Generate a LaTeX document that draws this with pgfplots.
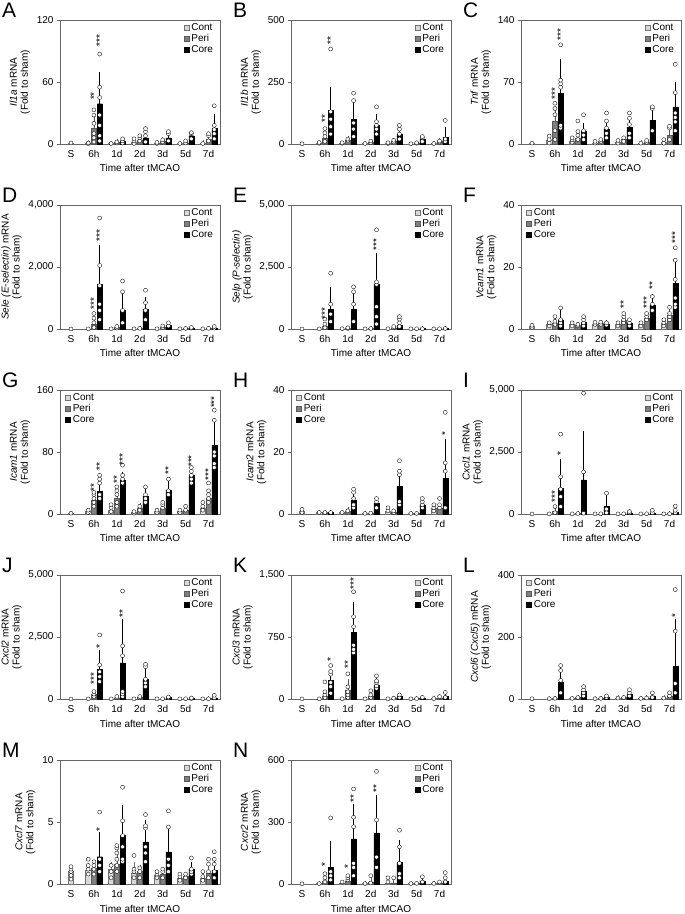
\documentclass[border=0pt]{standalone}
\usepackage{fontspec}
\setmainfont{Liberation Sans}
\usepackage{pgfplots}
\pgfplotsset{compat=1.18}
\definecolor{contfill}{gray}{0.85}
\definecolor{contdraw}{gray}{0.45}
\definecolor{perifill}{gray}{0.5}
\definecolor{peridraw}{gray}{0.35}
\definecolor{axgray}{gray}{0.4}
\tikzset{letter/.style={anchor=north west, inner sep=0pt, font=\fontsize{21}{21}\selectfont}}
\pgfplotsset{
 panel/.style={scale only axis, width=160pt, height=124pt, xmin=-0.48, xmax=6.5, ymin=0,
   axis line style={axgray, line width=0.5pt}, xtick={0,1,2,3,4,5,6},
   xticklabels={S,6h,1d,2d,3d,5d,7d}, xtick style={draw=none}, ytick pos=left,
   tick align=outside, major tick length=3pt, ytick style={axgray, line width=0.5pt},
   xlabel={Time after tMCAO},
   tick label style={font=\fontsize{10}{11}\selectfont},
   label style={font=\fontsize{10}{11}\selectfont},
   ylabel style={align=center}, clip=false, legend cell align=left,
   legend style={draw=none, fill=none, font=\fontsize{10}{10.5}\selectfont, inner sep=0pt, row sep=-1.5pt},
   anchor=south west},
 TR/.style={legend style={at={(0.97,0.99)}, anchor=north east}},
 TL/.style={legend style={at={(0.03,0.99)}, anchor=north west}},
 sqleg/.style={legend image code/.code={\draw[##1] (0pt,-2.7pt) rectangle (5.4pt,2.7pt);}},
 ebar/.style={error bars/.cd, y dir=plus, y explicit, error bar style={line width=0.4pt, #1}, error mark options={line width=0.4pt, mark size=2pt, #1}},
 cont/.style={ybar, bar width=0.22, bar shift=0pt, fill=contfill, draw=contdraw, line width=0.4pt, forget plot, ebar=contdraw},
 peri/.style={ybar, bar width=0.22, bar shift=0pt, fill=perifill, draw=peridraw, line width=0.4pt, forget plot, ebar=peridraw},
 core/.style={ybar, bar width=0.22, bar shift=0pt, fill=black, draw=black, line width=0.4pt, forget plot, ebar=black},
 pts/.style={only marks, mark=*, mark size=2pt, mark options={fill=white, draw=black, line width=0.35pt}, forget plot},
 stars/.style={draw=none, mark=none, forget plot, nodes near coords, point meta=explicit symbolic,
   nodes near coords style={rotate=90, anchor=west, inner sep=0.5pt, font=\fontsize{10}{10}\selectfont}},
}
\newcommand{\legs}{\addlegendimage{sqleg,fill=contfill,draw=contdraw}\addlegendentry{Cont}
\addlegendimage{sqleg,fill=perifill,draw=peridraw}\addlegendentry{Peri}
\addlegendimage{sqleg,fill=black,draw=black}\addlegendentry{Core}}
\begin{document}
\begin{tikzpicture}
\useasboundingbox (0,0) rectangle (685pt,-914pt);
% ---------------- A
\begin{axis}[panel, TR, at={(60pt,-144pt)}, ymax=120, ytick={0,60,120}, yticklabels={0,60,120},
 ylabel={\textit{Il1a} mRNA\\(Fold to sham)}]
\legs
\addplot[cont] coordinates {(0,1) +- (0,0) (0.75,1) +- (0,0.5) (1.75,0.6) +- (0,0.3) (2.75,2) +- (0,2) (3.75,1) +- (0,0.5) (4.75,0.5) +- (0,0.3) (5.75,1) +- (0,1)};
\addplot[peri] coordinates {(1,15) +- (0,12) (2,1.5) +- (0,1) (3,4) +- (0,3) (4,3) +- (0,1.5) (5,1) +- (0,0.8) (6,5) +- (0,3)};
\addplot[core] coordinates {(1.25,39) +- (0,29) (2.25,3) +- (0,1.5) (3.25,6) +- (0,5) (4.25,6) +- (0,5) (5.25,8) +- (0,3) (6.25,15) +- (0,12)};
\addplot[pts] coordinates {(0,1) (0.75,0.5) (0.75,1) (1,2) (1,6) (1,10) (1,20) (1,28) (1,33) (1.25,3) (1.25,8) (1.25,18) (1.25,28) (1.25,45) (1.25,55) (1.25,87)
 (1.75,0.5) (2,1) (2,2) (2.25,1) (2.25,3) (2.25,5) (2.75,0.5) (2.75,3) (2.75,5) (3,3) (3,6) (3,8) (3.25,2) (3.25,8) (3.25,12) (3.25,15)
 (3.75,0.5) (3.75,1.5) (4,2) (4,4) (4.25,3) (4.25,10) (4.25,12) (4.75,0.5) (5,1) (5,3) (5.25,5) (5.25,10) (5.25,11)
 (5.75,0.5) (6,3) (6,8) (6,10) (6.25,5) (6.25,10) (6.25,14) (6.25,18) (6.25,37)};
\addplot[stars] coordinates {(1,42) [**] (1.25,94) [***]};
\end{axis}
\node[letter] at (2pt,-3pt) {A};
% ---------------- B
\begin{axis}[panel, TR, at={(291pt,-144pt)}, ymax=500, ytick={0,250,500}, yticklabels={0,250,500},
 ylabel={\textit{Il1b} mRNA\\(Fold to sham)}]
\legs
\addplot[cont] coordinates {(0,1) +- (0,0) (0.75,3) +- (0,2) (1.75,3) +- (0,2) (2.75,2) +- (0,1) (3.75,3) +- (0,2) (4.75,1) +- (0,1) (5.75,3) +- (0,2)};
\addplot[peri] coordinates {(1,25) +- (0,20) (2,15) +- (0,8) (3,8) +- (0,5) (4,10) +- (0,6) (5,3) +- (0,2) (6,10) +- (0,5)};
\addplot[core] coordinates {(1.25,135) +- (0,88) (2.25,100) +- (0,72) (3.25,75) +- (0,37) (4.25,40) +- (0,20) (5.25,20) +- (0,10) (6.25,28) +- (0,32)};
\addplot[pts] coordinates {(0,1) (0.75,3) (0.75,6) (1,10) (1,30) (1,45) (1,62) (1.25,40) (1.25,70) (1.25,100) (1.25,130) (1.25,383)
 (1.75,3) (1.75,5) (2,15) (2,20) (2.25,30) (2.25,60) (2.25,85) (2.25,175) (2.25,205) (2.75,2) (3,5) (3,12)
 (3.25,40) (3.25,60) (3.25,75) (3.25,90) (3.25,150) (3.75,2) (3.75,5) (4,8) (4,15) (4.25,20) (4.25,40) (4.25,60) (4.25,75)
 (4.75,1) (5,3) (5,5) (5.25,10) (5.25,25) (5.25,30) (5.75,2) (6,8) (6,12) (6.25,10) (6.25,20) (6.25,95)};
\addplot[stars] coordinates {(1,85) [**] (1.25,400) [**]};
\end{axis}
\node[letter] at (233pt,-3pt) {B};
% ---------------- C
\begin{axis}[panel, TR, at={(521pt,-144pt)}, ymax=140, ytick={0,70,140}, yticklabels={0,70,140},
 ylabel={\textit{Tnf} mRNA\\(Fold to sham)}]
\legs
\addplot[cont] coordinates {(0,1) +- (0,0) (0.75,4) +- (0,3) (1.75,3) +- (0,2) (2.75,1) +- (0,1) (3.75,2) +- (0,1.5) (4.75,1) +- (0,1) (5.75,2) +- (0,2)};
\addplot[peri] coordinates {(1,26) +- (0,15) (2,7) +- (0,5) (3,3) +- (0,2) (4,5) +- (0,2) (5,2) +- (0,1) (6,10) +- (0,7)};
\addplot[core] coordinates {(1.25,57) +- (0,37) (2.25,14) +- (0,8) (3.25,17) +- (0,8) (4.25,19) +- (0,9) (5.25,27) +- (0,9) (6.25,42) +- (0,26)};
\addplot[pts] coordinates {(0,1) (0.75,1) (0.75,5) (0.75,9) (1,5) (1,15) (1,33) (1,40) (1,46) (1.25,18) (1.25,21) (1.25,64) (1.25,68) (1.25,72) (1.25,112)
 (1.75,2) (1.75,5) (1.75,7) (2,5) (2,10) (2,14) (2,26) (2.25,5) (2.25,10) (2.25,15) (2.25,33) (2.75,1) (2.75,3) (3,3) (3,5)
 (3.25,7) (3.25,12) (3.25,18) (3.25,26) (3.25,35) (3.75,1) (3.75,4) (4,3) (4,7) (4.25,7) (4.25,12) (4.25,22) (4.25,29) (4.25,35)
 (4.75,1) (5,2) (5,4) (5.25,15) (5.25,40) (5.25,42) (5.75,1) (5.75,5) (6,5) (6,18) (6,20) (6.25,15) (6.25,25) (6.25,30) (6.25,35) (6.25,58) (6.25,90)};
\addplot[stars] coordinates {(1,50) [***] (1.25,116) [***]};
\end{axis}
\node[letter] at (463pt,-3pt) {C};
% ---------------- D
\begin{axis}[panel, TR, at={(60pt,-329pt)}, ymax=4000, ytick={0,2000,4000}, yticklabels={0,{2,000},{4,000}},
 ylabel={\textit{Sele (E-selectin)} mRNA\\(Fold to sham)}]
\legs
\addplot[cont] coordinates {(0,1) +- (0,0) (0.75,5) +- (0,3) (1.75,5) +- (0,3) (2.75,5) +- (0,3) (3.75,3) +- (0,2) (4.75,5) +- (0,3) (5.75,5) +- (0,3)};
\addplot[peri] coordinates {(1,150) +- (0,150) (2,50) +- (0,40) (3,20) +- (0,15) (4,50) +- (0,50) (5,20) +- (0,10) (6,20) +- (0,10)};
\addplot[core] coordinates {(1.25,1450) +- (0,1200) (2.25,620) +- (0,580) (3.25,650) +- (0,320) (4.25,120) +- (0,60) (5.25,30) +- (0,15) (6.25,30) +- (0,20)};
\addplot[pts] coordinates {(0,1) (0.75,5) (1,50) (1,200) (1,350) (1,500) (1.25,300) (1.25,600) (1.25,800) (1.25,1400) (1.25,2050) (1.25,3580)
 (1.75,5) (2,30) (2,80) (2.25,200) (2.25,600) (2.25,1200) (2.25,1550) (2.75,5) (3,20) (3.25,300) (3.25,600) (3.25,850) (3.25,1250)
 (3.75,5) (4,50) (4,100) (4.25,100) (4.25,200) (4.75,5) (5,20) (5.25,30) (5.25,50) (5.75,5) (6,20) (6.25,30) (6.25,80)};
\addplot[stars] coordinates {(1,600) [***] (1.25,2800) [***]};
\end{axis}
\node[letter] at (2pt,-188pt) {D};
% ---------------- E
\begin{axis}[panel, TR, at={(291pt,-329pt)}, ymax=5000, ytick={0,2500,5000}, yticklabels={0,{2,500},{5,000}},
 ylabel={\textit{Selp (P-selectin)}\\(Fold to sham)}]
\legs
\addplot[cont] coordinates {(0,1) +- (0,0) (0.75,5) +- (0,3) (1.75,10) +- (0,5) (2.75,5) +- (0,3) (3.75,5) +- (0,3) (4.75,5) +- (0,3) (5.75,5) +- (0,3)};
\addplot[peri] coordinates {(1,100) +- (0,100) (2,30) +- (0,20) (3,20) +- (0,10) (4,30) +- (0,20) (5,10) +- (0,5) (6,10) +- (0,5)};
\addplot[core] coordinates {(1.25,800) +- (0,800) (2.25,780) +- (0,600) (3.25,1800) +- (0,1200) (4.25,150) +- (0,150) (5.25,15) +- (0,10) (6.25,20) +- (0,10)};
\addplot[pts] coordinates {(0,1) (0.75,5) (1,50) (1,200) (1,400) (1.25,300) (1.25,600) (1.25,1000) (1.25,2250) (1.75,10) (2,20) (2,50)
 (2.25,300) (2.25,1000) (2.25,1500) (2.25,1700) (2.75,5) (3,20) (3.25,200) (3.25,500) (3.25,900) (3.25,1800) (3.25,1900) (3.25,4000)
 (3.75,10) (4,50) (4,100) (4.25,100) (4.25,250) (4.25,400) (4.25,500) (4.75,5) (5,10) (5.25,10) (5.75,5) (6,10) (6.25,20)};
\addplot[stars] coordinates {(1,350) [***] (3.25,3150) [***]};
\end{axis}
\node[letter] at (233pt,-188pt) {E};
% ---------------- F
\begin{axis}[panel, TL, at={(521pt,-329pt)}, ymax=40, ytick={0,20,40}, yticklabels={0,20,40},
 ylabel={\textit{Vcam1} mRNA\\(Fold to sham)}]
\legs
\addplot[cont] coordinates {(0,1) +- (0,0.3) (0.75,1.5) +- (0,0.5) (1.75,1.5) +- (0,0.5) (2.75,1.5) +- (0,0.5) (3.75,1.5) +- (0,0.5) (4.75,1.5) +- (0,0.5) (5.75,2) +- (0,1)};
\addplot[peri] coordinates {(1,2) +- (0,1) (2,1.2) +- (0,0.5) (3,1.8) +- (0,0.5) (4,3) +- (0,1.5) (5,3.5) +- (0,1.2) (6,4.5) +- (0,2)};
\addplot[core] coordinates {(1.25,3) +- (0,2.5) (2.25,2.2) +- (0,1) (3.25,1.6) +- (0,0.5) (4.25,2) +- (0,0.8) (5.25,7.7) +- (0,3) (6.25,14.7) +- (0,7.2)};
\addplot[pts] coordinates {(0,0.5) (0,1.2) (0.75,1) (0.75,2) (1,1.5) (1,2.5) (1,4) (1.25,1) (1.25,2) (1.25,3) (1.25,6.8) (1.75,1) (1.75,2) (2,1) (2,1.5)
 (2.25,1) (2.25,2) (2.25,3) (2.25,4) (2.75,1.5) (2.75,2.2) (3,1.5) (3,2.2) (3.25,1.3) (3.25,2) (3.75,1) (3.75,2) (4,2) (4,3) (4,4) (4,5)
 (4.25,1) (4.25,2) (4.25,3) (4.75,1) (4.75,2) (5,3) (5,4) (5,5) (5.25,6) (5.25,8) (5.25,10.5) (5.75,1) (5.75,2) (5.75,3)
 (6,3) (6,4) (6,5) (6,7) (6.25,7) (6.25,8) (6.25,10) (6.25,16) (6.25,22.2) (6.25,26.2)};
\addplot[stars] coordinates {(4,6.5) [**] (5,6.5) [***] (5.25,12.5) [**] (6.25,27.5) [***]};
\end{axis}
\node[letter] at (463pt,-188pt) {F};
% ---------------- G
\begin{axis}[panel, TL, at={(60pt,-514pt)}, ymax=160, ytick={0,80,160}, yticklabels={0,80,160},
 ylabel={\textit{Icam1} mRNA\\(Fold to sham)}]
\legs
\addplot[cont] coordinates {(0,1) +- (0,0.5) (0.75,3) +- (0,2) (1.75,5) +- (0,3) (2.75,2) +- (0,1) (3.75,3) +- (0,2) (4.75,3) +- (0,2) (5.75,8) +- (0,5)};
\addplot[peri] coordinates {(1,18) +- (0,6) (2,20) +- (0,8) (3,8) +- (0,3) (4,8) +- (0,4) (5,5) +- (0,3) (6,20) +- (0,10)};
\addplot[core] coordinates {(1.25,29) +- (0,12) (2.25,44) +- (0,8) (3.25,23) +- (0,8) (4.25,31) +- (0,10) (5.25,50) +- (0,8) (6.25,89) +- (0,32)};
\addplot[pts] coordinates {(0,1) (0.75,2) (0.75,5) (1,10) (1,15) (1,20) (1,25) (1,28) (1.25,20) (1.25,25) (1.25,40) (1.25,45) (1.25,50)
 (1.75,3) (1.75,8) (1.75,12) (2,10) (2,15) (2,25) (2,30) (2,35) (2.25,40) (2.25,45) (2.25,50) (2.25,63) (2.75,1) (2.75,3) (3,5) (3,10)
 (3.25,15) (3.25,20) (3.25,25) (3.25,35) (3.75,2) (3.75,5) (4,8) (4,12) (4,15) (4.25,25) (4.25,30) (4.25,45) (4.75,2) (4.75,5) (5,5) (5,10)
 (5.25,40) (5.25,45) (5.25,50) (5.25,55) (5.25,60) (5.75,5) (5.75,10) (5.75,15) (6,15) (6,20) (6,25) (6,30) (6,40)
 (6.25,60) (6.25,65) (6.25,75) (6.25,80) (6.25,121) (6.25,134)};
\addplot[stars] coordinates {(1,28) [**] (1.25,55) [**] (2,38) [**] (2.25,62) [***] (4.25,50) [**] (5.25,60) [***] (6,42) [***] (6.25,136) [***]};
\end{axis}
\node[letter] at (2pt,-373pt) {G};
% ---------------- H
\begin{axis}[panel, TL, at={(291pt,-514pt)}, ymax=40, ytick={0,20,40}, yticklabels={0,20,40},
 ylabel={\textit{Icam2} mRNA\\(Fold to sham)}]
\legs
\addplot[cont] coordinates {(0,1) +- (0,0.5) (0.75,0.5) +- (0,0.2) (1.75,0.5) +- (0,0.2) (2.75,0.2) +- (0,0.1) (3.75,1) +- (0,0.5) (4.75,0.2) +- (0,0.1) (5.75,2) +- (0,1)};
\addplot[peri] coordinates {(1,0.5) +- (0,0.2) (2,1) +- (0,0.5) (3,0.3) +- (0,0.1) (4,0.5) +- (0,0.3) (5,0.2) +- (0,0.1) (6,2) +- (0,1)};
\addplot[core] coordinates {(1.25,0.5) +- (0,0.2) (2.25,4.5) +- (0,3) (3.25,3.5) +- (0,1.5) (4.25,9) +- (0,4.7) (5.25,3) +- (0,2) (6.25,11.5) +- (0,12.1)};
\addplot[pts] coordinates {(0,0.5) (0,1.5) (0.75,0.5) (1,0.5) (1.25,0.5) (1.75,0.5) (2,1) (2.25,2) (2.25,3) (2.25,5) (2.25,7) (2.25,8)
 (2.75,0.2) (3,0.3) (3.25,2) (3.25,4) (3.25,5) (3.75,1) (3.75,2) (4,0.5) (4,1) (4.25,3) (4.25,4) (4.25,12.7) (4.25,13.8) (4.25,17.2)
 (4.75,0.2) (5,0.2) (5.25,2) (5.25,3) (5.25,4) (5.25,5) (5.75,1) (5.75,2) (5.75,3) (6,2) (6,3) (6,5) (6.25,2) (6.25,13.8) (6.25,16.5) (6.25,32.8)};
\addplot[stars] coordinates {(6.25,25) [*]};
\end{axis}
\node[letter] at (233pt,-373pt) {H};
% ---------------- I
\begin{axis}[panel, TR, at={(521pt,-514pt)}, ymax=5000, ytick={0,2500,5000}, yticklabels={0,{2,500},{5,000}},
 ylabel={\textit{Cxcl1} mRNA\\(Fold to sham)}]
\legs
\addplot[cont] coordinates {(0,1) +- (0,0) (0.75,5) +- (0,3) (1.75,5) +- (0,3) (2.75,5) +- (0,3) (3.75,5) +- (0,3) (4.75,5) +- (0,3) (5.75,5) +- (0,3)};
\addplot[peri] coordinates {(1,100) +- (0,100) (2,20) +- (0,10) (3,10) +- (0,10) (4,10) +- (0,10) (5,10) +- (0,10) (6,20) +- (0,20)};
\addplot[core] coordinates {(1.25,1040) +- (0,1110) (2.25,1380) +- (0,1900) (3.25,310) +- (0,400) (4.25,30) +- (0,20) (5.25,30) +- (0,20) (6.25,60) +- (0,60)};
\addplot[pts] coordinates {(0,1) (0.75,5) (1,50) (1,300) (1.25,300) (1.25,700) (1.25,1000) (1.25,1500) (1.25,3220) (1.75,5) (2,20)
 (2.25,30) (2.25,1700) (2.25,4870) (2.75,5) (3,10) (3.25,50) (3.25,200) (3.25,840) (3.75,5) (4,10) (4.25,50) (4.25,100)
 (4.75,5) (5,10) (5.25,50) (5.25,150) (5.75,5) (6,10) (6.25,50) (6.25,150) (6.25,320)};
\addplot[stars] coordinates {(1,450) [***] (1.25,2350) [*]};
\end{axis}
\node[letter] at (463pt,-373pt) {I};
% ---------------- J
\begin{axis}[panel, TR, at={(60pt,-699pt)}, ymax=5000, ytick={0,2500,5000}, yticklabels={0,{2,500},{5,000}},
 ylabel={\textit{Cxcl2} mRNA\\(Fold to sham)}]
\legs
\addplot[cont] coordinates {(0,1) +- (0,0) (0.75,5) +- (0,3) (1.75,5) +- (0,3) (2.75,5) +- (0,3) (3.75,5) +- (0,3) (4.75,5) +- (0,3) (5.75,5) +- (0,3)};
\addplot[peri] coordinates {(1,200) +- (0,100) (2,50) +- (0,40) (3,60) +- (0,30) (4,10) +- (0,5) (5,10) +- (0,5) (6,20) +- (0,10)};
\addplot[core] coordinates {(1.25,1190) +- (0,715) (2.25,1455) +- (0,1700) (3.25,800) +- (0,500) (4.25,60) +- (0,20) (5.25,20) +- (0,10) (6.25,50) +- (0,60)};
\addplot[pts] coordinates {(0,1) (0.75,5) (1,100) (1,200) (1,300) (1.25,700) (1.25,900) (1.25,1100) (1.25,1376) (1.25,2580)
 (1.75,5) (2,50) (2,100) (2.25,100) (2.25,200) (2.25,300) (2.25,1746) (2.25,2143) (2.25,4355) (2.75,5) (3,50) (3,100)
 (3.25,500) (3.25,650) (3.25,800) (3.25,1300) (3.25,1400) (3.75,5) (4,10) (4.25,50) (4.25,80) (4.75,5) (5,10) (5.25,20) (5.25,40)
 (5.75,5) (6,10) (6.25,50) (6.25,150)};
\addplot[stars] coordinates {(1,550) [***] (1.25,2000) [*] (2.25,3250) [**]};
\end{axis}
\node[letter] at (2pt,-558pt) {J};
% ---------------- K
\begin{axis}[panel, TR, at={(291pt,-699pt)}, ymax=1500, ytick={0,750,1500}, yticklabels={0,750,{1,500}},
 ylabel={\textit{Cxcl3} mRNA\\(Fold to sham)}]
\legs
\addplot[cont] coordinates {(0,1) +- (0,0) (0.75,2) +- (0,1) (1.75,3) +- (0,2) (2.75,2) +- (0,1) (3.75,2) +- (0,1) (4.75,2) +- (0,1) (5.75,5) +- (0,3)};
\addplot[peri] coordinates {(1,40) +- (0,40) (2,107) +- (0,107) (3,30) +- (0,25) (4,10) +- (0,5) (5,5) +- (0,3) (6,15) +- (0,10)};
\addplot[core] coordinates {(1.25,226) +- (0,99) (2.25,810) +- (0,340) (3.25,170) +- (0,60) (4.25,30) +- (0,15) (5.25,10) +- (0,5) (6.25,30) +- (0,25)};
\addplot[pts] coordinates {(0,1) (0.75,2) (1,20) (1,50) (1,87) (1,206) (1.25,70) (1.25,150) (1.25,200) (1.25,300) (1.25,333) (1.25,405)
 (1.75,3) (2,20) (2,50) (2,87) (2,147) (2,305) (2.25,560) (2.25,600) (2.25,650) (2.25,875) (2.25,996) (2.25,1298)
 (2.75,2) (3,20) (3,50) (3,100) (3.25,130) (3.25,160) (3.25,200) (3.25,220) (3.25,280) (3.75,2) (4,10) (4.25,20) (4.25,50)
 (4.75,2) (5,5) (5.25,20) (5.75,5) (6,30) (6.25,20) (6.25,80)};
\addplot[stars] coordinates {(1.25,450) [*] (2,360) [**] (2.25,1320) [***]};
\end{axis}
\node[letter] at (233pt,-558pt) {K};
% ---------------- L
\begin{axis}[panel, TL, at={(521pt,-699pt)}, ymax=400, ytick={0,200,400}, yticklabels={0,200,400},
 ylabel={\textit{Cxcl6 (Cxcl5)} mRNA\\(Fold to sham)}]
\legs
\addplot[cont] coordinates {(0,1) +- (0,0) (0.75,1) +- (0,1) (1.75,2) +- (0,1) (2.75,1) +- (0,1) (3.75,3) +- (0,2) (4.75,2) +- (0,1) (5.75,3) +- (0,2)};
\addplot[peri] coordinates {(1,2) +- (0,1) (2,5) +- (0,3) (3,2) +- (0,1) (4,5) +- (0,3) (5,3) +- (0,2) (6,10) +- (0,5)};
\addplot[core] coordinates {(1.25,55) +- (0,45) (2.25,25) +- (0,10) (3.25,5) +- (0,3) (4.25,15) +- (0,15) (5.25,10) +- (0,5) (6.25,105) +- (0,147)};
\addplot[pts] coordinates {(0,1) (0.75,1) (1,2) (1.25,20) (1.25,60) (1.25,92) (1.25,108) (1.75,2) (2,5) (2.25,10) (2.25,20) (2.25,30) (2.25,40)
 (2.75,1) (3,2) (3.25,5) (3.25,10) (3.75,3) (4,5) (4.25,10) (4.25,20) (4.25,30) (4.75,2) (5,3) (5.25,5) (5.25,20)
 (5.75,3) (6,10) (6,20) (6.25,20) (6.25,50) (6.25,219) (6.25,353)};
\addplot[stars] coordinates {(6.25,262) [*]};
\end{axis}
\node[letter] at (463pt,-558pt) {L};
% ---------------- M
\begin{axis}[panel, TR, at={(60pt,-884pt)}, ymax=10, ytick={0,5,10}, yticklabels={0,5,10},
 ylabel={\textit{Cxcl7} mRNA\\(Fold to sham)}]
\legs
\addplot[cont] coordinates {(0,1) +- (0,0.3) (0.75,1.1) +- (0,0.4) (1.75,1.2) +- (0,0.4) (2.75,0.9) +- (0,0.7) (3.75,0.7) +- (0,0.3) (4.75,0.5) +- (0,0.2) (5.75,0.5) +- (0,0.3)};
\addplot[peri] coordinates {(1,1.3) +- (0,0.4) (2,1.6) +- (0,1) (3,1.0) +- (0,0.4) (4,0.8) +- (0,0.3) (5,0.6) +- (0,0.2) (6,0.9) +- (0,0.6)};
\addplot[core] coordinates {(1.25,2.2) +- (0,1.8) (2.25,3.9) +- (0,2.3) (3.25,3.4) +- (0,1.6) (4.25,2.6) +- (0,2.0) (5.25,1.2) +- (0,0.4) (6.25,1.1) +- (0,0.9)};
\addplot[pts] coordinates {(0,0.4) (0,0.7) (0,1.0) (0,1.2) (0,1.4) (0.75,0.8) (0.75,1.2) (0.75,1.5) (0.75,2.0) (1,0.8) (1,1.2) (1,1.5) (1,1.8)
 (1.25,1.0) (1.25,1.5) (1.25,2.0) (1.25,5.8) (1.75,0.5) (1.75,1.0) (1.75,1.5) (2,1.0) (2,1.5) (2,2.0) (2,2.5) (2,2.9) (2,3.1)
 (2.25,1.8) (2.25,2.0) (2.25,3.0) (2.25,3.9) (2.25,5.1) (2.25,7.8) (2.75,0.5) (2.75,1.0) (2.75,1.2) (2.75,2.3) (3,0.5) (3,1.0) (3,1.3)
 (3.25,1.8) (3.25,2.5) (3.25,3.0) (3.25,4.5) (3.25,4.7) (3.25,5.6) (3.75,0.5) (3.75,0.8) (3.75,1.0) (4,0.5) (4,1.0) (4,1.2)
 (4.25,1.0) (4.25,1.5) (4.25,2.0) (4.25,4.6) (4.25,5.9) (4.75,0.3) (4.75,0.6) (4.75,0.8) (5,0.5) (5,0.8)
 (5.25,0.8) (5.25,1.0) (5.25,1.2) (5.25,2.1) (5.75,0.3) (5.75,0.6) (5.75,1.0) (6,0.5) (6,1.0) (6,1.6) (6,2.0)
 (6.25,0.5) (6.25,1.0) (6.25,1.6) (6.25,2.0) (6.25,2.6)};
\addplot[stars] coordinates {(1.25,4.2) [*]};
\end{axis}
\node[letter] at (2pt,-743pt) {M};
% ---------------- N
\begin{axis}[panel, TR, at={(291pt,-884pt)}, ymax=600, ytick={0,300,600}, yticklabels={0,300,600},
 ylabel={\textit{Cxcr2} mRNA\\(Fold to sham)}]
\legs
\addplot[cont] coordinates {(0,1) +- (0,0) (0.75,2) +- (0,1) (1.75,3) +- (0,3) (2.75,2) +- (0,1) (3.75,3) +- (0,3) (4.75,2) +- (0,1) (5.75,3) +- (0,2)};
\addplot[peri] coordinates {(1,15) +- (0,15) (2,15) +- (0,10) (3,10) +- (0,10) (4,5) +- (0,5) (5,3) +- (0,2) (6,5) +- (0,3)};
\addplot[core] coordinates {(1.25,80) +- (0,117) (2.25,218) +- (0,161) (3.25,245) +- (0,178) (4.25,105) +- (0,100) (5.25,15) +- (0,10) (6.25,15) +- (0,15)};
\addplot[pts] coordinates {(0,1) (0.75,2) (1,10) (1,30) (1,50) (1.25,20) (1.25,40) (1.25,60) (1.25,320) (1.75,10) (2,20) (2,30) (2,40)
 (2.25,40) (2.25,80) (2.25,100) (2.25,277) (2.25,323) (2.25,460) (2.75,2) (3,5) (3,40) (3.25,80) (3.25,130) (3.25,310) (3.25,545)
 (3.75,10) (3.75,30) (4,30) (4.25,30) (4.25,50) (4.25,100) (4.25,180) (4.25,260) (4.75,2) (5,3) (5.25,10) (5.25,35)
 (5.75,3) (6,10) (6.25,10) (6.25,30) (6.25,55)};
\addplot[stars] coordinates {(1,80) [*] (2,70) [*] (2.25,390) [**] (3.25,440) [**]};
\end{axis}
\node[letter] at (233pt,-743pt) {N};
\end{tikzpicture}
\end{document}
